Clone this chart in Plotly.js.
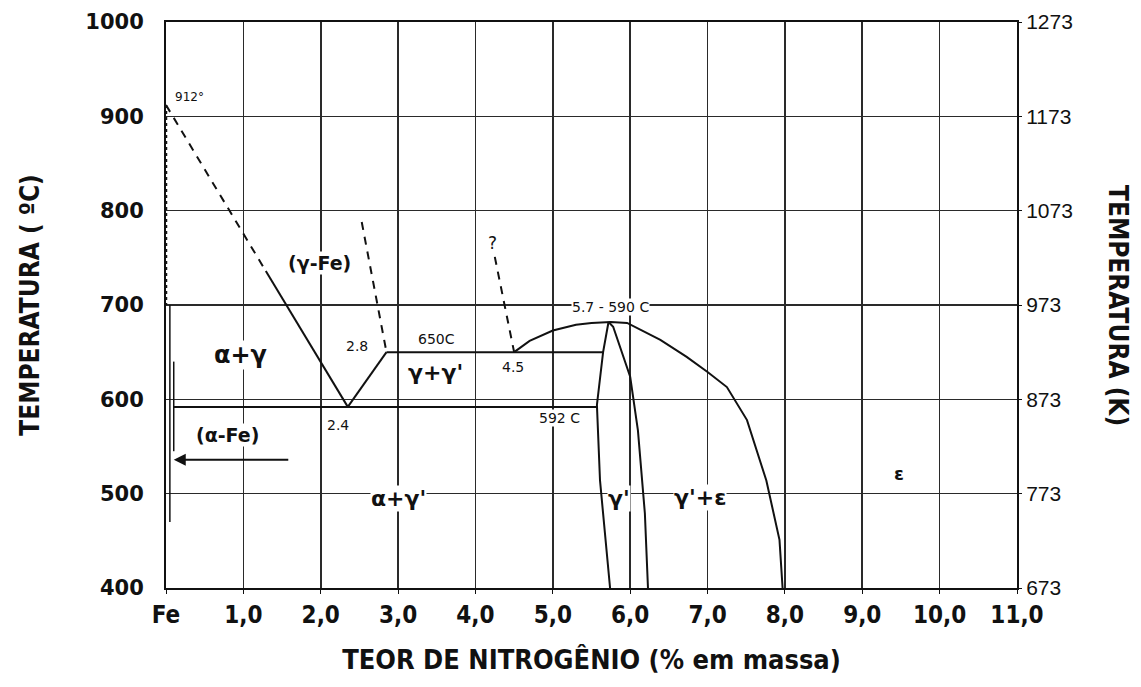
<!DOCTYPE html>
<html>
<head>
<meta charset="utf-8">
<script src="https://cdn.plot.ly/plotly-3.0.1.min.js"></script>
<style>html,body{margin:0;padding:0;background:#fff;}#chart{width:1141px;height:687px;}</style>
</head>
<body>
<div id="chart"></div>
<script>
// ---- Axis ticks ----
const xTickVals = [0,1,2,3,4,5,6,7,8,9,10,11];
const xTickText = ['Fe','1,0','2,0','3,0','4,0','5,0','6,0','7,0','8,0','9,0','10,0','11,0'];
const tempTicksC = [400,500,600,700,800,900,1000];
const tempTicksK = [673,773,873,973,1073,1173,1273];

// ---- Phase boundaries (x = wt% N, T = °C) ----
const fe912DottedX = [0.0, 0.0];
const fe912DottedT = [912, 700];
const alphaSolvusAX = [0.05, 0.05];
const alphaSolvusAT = [700, 470];
const alphaSolvusBX = [0.1, 0.1];
const alphaSolvusBT = [640, 545];
const gammaUpperDashedX = [0.0, 1.29];
const gammaUpperDashedT = [912, 736];
const gammaLowerSolidX = [1.29, 2.35];
const gammaLowerSolidT = [736, 592];
const eutectoidRightX = [2.35, 2.85];
const eutectoidRightT = [592, 650];
const line650X = [2.85, 5.65];
const line650T = [650, 650];
const line592X = [0.1, 5.57];
const line592T = [592, 592];
const dashed28X = [2.53, 2.85];
const dashed28T = [788, 650];
const dashed45X = [4.25, 4.5];
const dashed45T = [751, 650];
const domeX = [4.5, 4.7, 5.0, 5.3, 5.5, 5.75, 5.96, 6.39, 6.73, 7.0, 7.25, 7.51, 7.76, 7.93, 7.97];
const domeT = [650, 662, 673, 679, 681, 682, 681, 663, 645, 629, 613, 578, 514, 451, 400];
const gpLeftX = [5.72, 5.65, 5.57, 5.61, 5.74];
const gpLeftT = [682, 650, 594, 514, 400];
const gpRightX = [5.72, 5.78, 6.0, 6.1, 6.19, 6.23];
const gpRightT = [682, 677, 624, 567, 479, 400];

// ---- Labels ----
const labelText = ['912°','(γ-Fe)','α+γ','2.8','650C','γ+γ\'','4.5','5.7 - 590 C','2.4','592 C','(α-Fe)','α+γ\'','γ\'','γ\'+ε','ε','?'];
const labelX    = [0.3, 1.99, 0.96, 2.47, 3.5, 3.48, 4.48, 5.74, 2.22, 5.09, 0.8, 3.0, 5.85, 6.9, 9.48, 4.22];
const labelT    = [921, 745, 647, 657, 664, 628, 634, 698, 573, 580, 562, 495, 495, 496, 521, 766];
const labelSize = [12, 19, 24, 14, 14, 22, 14, 14, 14, 14, 19, 22, 22, 22, 18, 17];
const labelBold = [false, true, true, false, false, true, false, false, false, false, true, true, true, true, true, false];

const BLK = '#111';
const NARROW = 'Liberation Sans Narrow, DejaVu Sans Condensed, Liberation Sans, sans-serif';
function seg(x, y, dash, w) {
  return {x: x, y: y, type: 'scatter', mode: 'lines', hoverinfo: 'skip', showlegend: false,
          line: {color: BLK, width: w || 2, dash: dash || 'solid'}};
}

const traces = [
  seg(fe912DottedX, fe912DottedT, 'dot', 2.5),
  seg(alphaSolvusAX, alphaSolvusAT, 'solid', 1.5),
  seg(alphaSolvusBX, alphaSolvusBT, 'solid', 1.5),
  seg(gammaUpperDashedX, gammaUpperDashedT, '8px,7px', 2),
  seg(gammaLowerSolidX, gammaLowerSolidT, 'solid', 2),
  seg(eutectoidRightX, eutectoidRightT, 'solid', 2),
  seg(line650X, line650T, 'solid', 2),
  seg(line592X, line592T, 'solid', 2),
  seg(dashed28X, dashed28T, '8px,7px', 2),
  seg(dashed45X, dashed45T, '8px,7px', 2),
  seg(domeX, domeT, 'solid', 2),
  seg(gpLeftX, gpLeftT, 'solid', 2),
  seg(gpRightX, gpRightT, 'solid', 2),
  {x: [0, 11], y: [673, 1273], yaxis: 'y2', type: 'scatter', mode: 'markers',
   marker: {opacity: 0}, hoverinfo: 'skip', showlegend: false}
];

const annotations = labelText.map((t, i) => ({
  x: labelX[i], y: labelT[i], xref: 'x', yref: 'y', text: labelBold[i] ? '<b>' + t + '</b>' : t,
  showarrow: false, bgcolor: '#fff', borderpad: 0,
  font: {family: 'DejaVu Sans, sans-serif', size: labelSize[i], color: BLK}
}));
// arrow pointing to α-Fe solubility line
annotations.push({x: 0.1, y: 536, ax: 1.6, ay: 536, xref: 'x', yref: 'y', axref: 'x', ayref: 'y',
  text: '', showarrow: true, arrowhead: 2, arrowsize: 1.2, arrowwidth: 2, arrowcolor: BLK});
// right axis title
annotations.push({x: 1.1187, y: 0.5, xref: 'paper', yref: 'paper', xanchor: 'center', yanchor: 'middle',
  text: '<b>TEMPERATURA (K)</b>', textangle: 90, showarrow: false,
  font: {family: NARROW, size: 26, color: BLK}});

const layout = {
  width: 1141, height: 687,
  margin: {l: 166, r: 124, t: 22, b: 99},
  paper_bgcolor: '#fff', plot_bgcolor: '#fff',
  showlegend: false,
  xaxis: {
    range: [0, 11], tickvals: xTickVals, ticktext: xTickText,
    showgrid: true, gridcolor: '#2a2a2a', gridwidth: 1.6,
    showline: true, linecolor: BLK, linewidth: 2, mirror: true,
    ticks: 'outside', ticklen: 4, tickcolor: BLK, zeroline: false,
    tickfont: {family: NARROW, size: 24, color: BLK, weight: 'bold'},
    title: {text: '<b>TEOR DE NITROGÊNIO (% em massa)</b>', standoff: 22,
      font: {family: NARROW, size: 27, color: BLK}},
    automargin: false, fixedrange: true
  },
  yaxis: {
    range: [400, 1000], tickvals: tempTicksC,
    showgrid: true, gridcolor: '#2a2a2a', gridwidth: 1.6,
    showline: true, linecolor: BLK, linewidth: 2,
    ticks: '', ticklabelstandoff: 16, zeroline: false,
    tickfont: {family: 'DejaVu Sans, sans-serif', size: 21, color: BLK, weight: 'bold'},
    title: {text: '<b>TEMPERATURA ( ºC)</b>', standoff: 38,
      font: {family: NARROW, size: 26, color: BLK}},
    automargin: false, fixedrange: true
  },
  yaxis2: {
    range: [673, 1273], tickvals: tempTicksK, overlaying: 'y', side: 'right',
    showgrid: false, showline: true, linecolor: BLK, linewidth: 2,
    ticks: 'outside', ticklen: 3, tickcolor: BLK, zeroline: false,
    tickfont: {family: 'Liberation Sans, Arial, sans-serif', size: 21, color: BLK},
    automargin: false, fixedrange: true
  },
  annotations: annotations
};

Plotly.newPlot('chart', traces, layout, {displayModeBar: false, staticPlot: true});
</script>
</body>
</html>
